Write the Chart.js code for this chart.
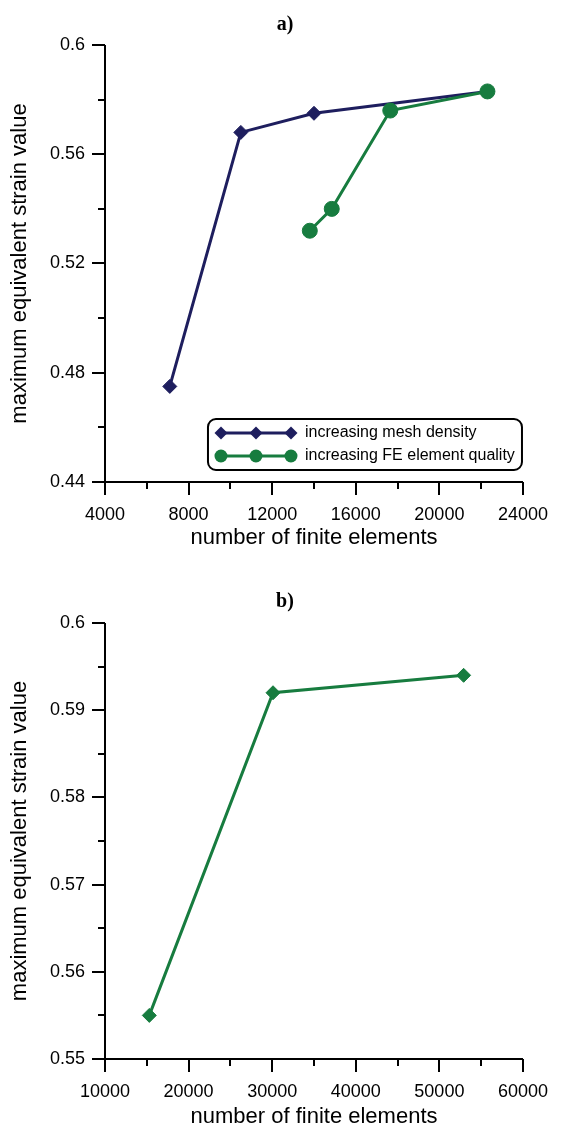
<!DOCTYPE html>
<html><head><meta charset="utf-8">
<script src="https://cdn.jsdelivr.net/npm/chart.js@4.4.1/dist/chart.umd.min.js"></script>
<style>
html,body{margin:0;padding:0;background:#fff;width:570px;height:1124px;overflow:hidden;}
.wrap{position:absolute;left:0;width:570px;}
</style></head><body>
<div class="wrap" style="top:0;height:562px"><canvas id="ca"></canvas></div>
<div class="wrap" style="top:562px;height:580px"><canvas id="cb"></canvas></div>
<script>
// ---- data ----
const meshElements = [7100, 10500, 14000, 22300];
const meshStrain = [0.475, 0.568, 0.575, 0.583];
const qualityElements = [13800, 14850, 17650, 22300];
const qualityStrain = [0.532, 0.540, 0.576, 0.583];
const bElements = [15300, 30100, 52900];
const bStrain = [0.555, 0.592, 0.594];
const seriesLabels = ['increasing mesh density', 'increasing FE element quality'];
const panelTitles = ['a)', 'b)'];
const xTitle = 'number of finite elements';
const yTitle = 'maximum equivalent strain value';
// tick values
const aXMajor = [4000, 8000, 12000, 16000, 20000, 24000];
const aXMinor = [6000, 10000, 14000, 18000, 22000];
const aYMajor = [0.44, 0.48, 0.52, 0.56, 0.6];
const aYMinor = [0.46, 0.5, 0.54, 0.58];
const bXMajor = [10000, 20000, 30000, 40000, 50000, 60000];
const bXMinor = [15000, 25000, 35000, 45000, 55000];
const bYMajor = [0.55, 0.56, 0.57, 0.58, 0.59, 0.6];
const bYMinor = [0.555, 0.565, 0.575, 0.585, 0.595];

const NAVY = '#1e1e5e';
const GREEN = '#177c3f';
const SANS = '"Liberation Sans", Arial, sans-serif';

const deco = {
  id: 'deco',
  beforeDatasetsDraw(chart, args, o) {
    const ctx = chart.ctx, a = chart.chartArea, xs = chart.scales.x, ys = chart.scales.y;
    ctx.save();
    ctx.strokeStyle = '#000'; ctx.lineWidth = 2; ctx.lineCap = 'butt';
    ctx.beginPath();
    ctx.moveTo(a.left, a.top); ctx.lineTo(a.left, a.bottom); ctx.lineTo(a.right, a.bottom);
    ctx.stroke();
    const tick = (vals, len, isX) => {
      vals.forEach(v => {
        ctx.beginPath();
        if (isX) { const p = Math.round(xs.getPixelForValue(v)); ctx.moveTo(p, a.bottom); ctx.lineTo(p, a.bottom + len); }
        else { const p = Math.round(ys.getPixelForValue(v)); ctx.moveTo(a.left - len, p); ctx.lineTo(a.left, p); }
        ctx.stroke();
      });
    };
    tick(o.xMajor, 13, true); tick(o.xMinor, 7, true);
    tick(o.yMajor, 13, false); tick(o.yMinor, 7, false);
    // panel title
    ctx.fillStyle = '#000';
    ctx.font = 'bold 20px "Liberation Serif", "Times New Roman", serif';
    ctx.textAlign = 'center'; ctx.textBaseline = 'middle';
    ctx.fillText(o.title, chart.width / 2, o.titleY);
    ctx.restore();
  },
  afterDraw(chart, args, o) {
    if (!o.legend) return;
    const ctx = chart.ctx, a = chart.chartArea;
    const L = a.right - 315, R = a.right - 1, B = a.bottom - 12, T = B - 51;
    ctx.save();
    ctx.fillStyle = '#fff'; ctx.strokeStyle = '#000'; ctx.lineWidth = 2;
    ctx.beginPath();
    if (ctx.roundRect) ctx.roundRect(L, T, R - L, B - T, 8); else ctx.rect(L, T, R - L, B - T);
    ctx.fill(); ctx.stroke();
    chart.data.datasets.forEach((ds, i) => {
      const cy = T + 14 + i * 23;
      const xs = [L + 13, L + 48, L + 83];
      ctx.strokeStyle = ds.borderColor; ctx.fillStyle = ds.backgroundColor; ctx.lineWidth = 3;
      ctx.beginPath(); ctx.moveTo(xs[0], cy); ctx.lineTo(xs[2], cy); ctx.stroke();
      xs.forEach(x => {
        ctx.beginPath();
        if (ds.pointStyle === 'circle') ctx.arc(x, cy, 6.5, 0, Math.PI * 2);
        else { const r = 6.5; ctx.moveTo(x, cy - r); ctx.lineTo(x + r, cy); ctx.lineTo(x, cy + r); ctx.lineTo(x - r, cy); ctx.closePath(); }
        ctx.fill();
      });
      ctx.fillStyle = '#000'; ctx.font = '16px ' + SANS; ctx.textAlign = 'left'; ctx.textBaseline = 'middle';
      ctx.fillText(ds.label, L + 97, cy);
    });
    ctx.restore();
  }
};

function pts(xv, yv) { return xv.map((x, i) => ({ x: x, y: yv[i] })); }

function makeChart(id, datasets, cfg) {
  return new Chart(document.getElementById(id), {
    type: 'line',
    data: { datasets: datasets },
    plugins: [deco],
    options: {
      responsive: true, maintainAspectRatio: false, animation: false, events: [],
      layout: { padding: { top: cfg.plotTop, right: 29, left: 0, bottom: 0 } },
      plugins: {
        legend: { display: false }, tooltip: { enabled: false },
        deco: { xMajor: cfg.xMajor, xMinor: cfg.xMinor, yMajor: cfg.yMajor, yMinor: cfg.yMinor,
                title: cfg.title, titleY: cfg.titleY, legend: cfg.legend }
      },
      scales: {
        x: {
          type: 'linear', min: cfg.xMajor[0], max: cfg.xMajor[cfg.xMajor.length - 1],
          grid: { display: false, drawTicks: false }, border: { display: false },
          afterBuildTicks: s => { s.ticks = cfg.xMajor.map(v => ({ value: v })); },
          afterFit: s => { s.height = cfg.xHeight; },
          ticks: { autoSkip: false, maxRotation: 0, padding: 22, color: '#000', font: { family: SANS, size: 18 },
                   callback: v => String(v) },
          title: { display: true, text: xTitle, color: '#000', font: { family: SANS, size: 22 }, padding: { top: 0, bottom: cfg.xTitlePad } }
        },
        y: {
          type: 'linear', min: cfg.yMajor[0], max: cfg.yMajor[cfg.yMajor.length - 1],
          grid: { display: false, drawTicks: false }, border: { display: false },
          afterBuildTicks: s => { s.ticks = cfg.yMajor.map(v => ({ value: v })); },
          afterFit: s => { s.width = 105; },
          ticks: { autoSkip: false, padding: 20, color: '#000', font: { family: SANS, size: 18 },
                   callback: v => String(v) },
          title: { display: true, text: yTitle, color: '#000', font: { family: SANS, size: 22 }, padding: { top: 7, bottom: 0 } }
        }
      }
    }
  });
}

makeChart('ca', [
  { label: seriesLabels[0], data: pts(meshElements, meshStrain), borderColor: NAVY, backgroundColor: NAVY,
    borderWidth: 3, pointStyle: 'rectRot', pointRadius: 7, pointBorderWidth: 1, tension: 0, order: 2 },
  { label: seriesLabels[1], data: pts(qualityElements, qualityStrain), borderColor: GREEN, backgroundColor: GREEN,
    borderWidth: 3, pointStyle: 'circle', pointRadius: 7.5, pointBorderWidth: 1, tension: 0, order: 1 }
], { plotTop: 45, xHeight: 80, xTitlePad: 10.8, title: panelTitles[0], titleY: 25, legend: true,
     xMajor: aXMajor, xMinor: aXMinor, yMajor: aYMajor, yMinor: aYMinor });

makeChart('cb', [
  { label: 'b', data: pts(bElements, bStrain), borderColor: GREEN, backgroundColor: GREEN,
    borderWidth: 3, pointStyle: 'rectRot', pointRadius: 7, pointBorderWidth: 1, tension: 0 }
], { plotTop: 61, xHeight: 83, xTitlePad: 11.8, title: panelTitles[1], titleY: 40, legend: false,
     xMajor: bXMajor, xMinor: bXMinor, yMajor: bYMajor, yMinor: bYMinor });
</script>
</body></html>
